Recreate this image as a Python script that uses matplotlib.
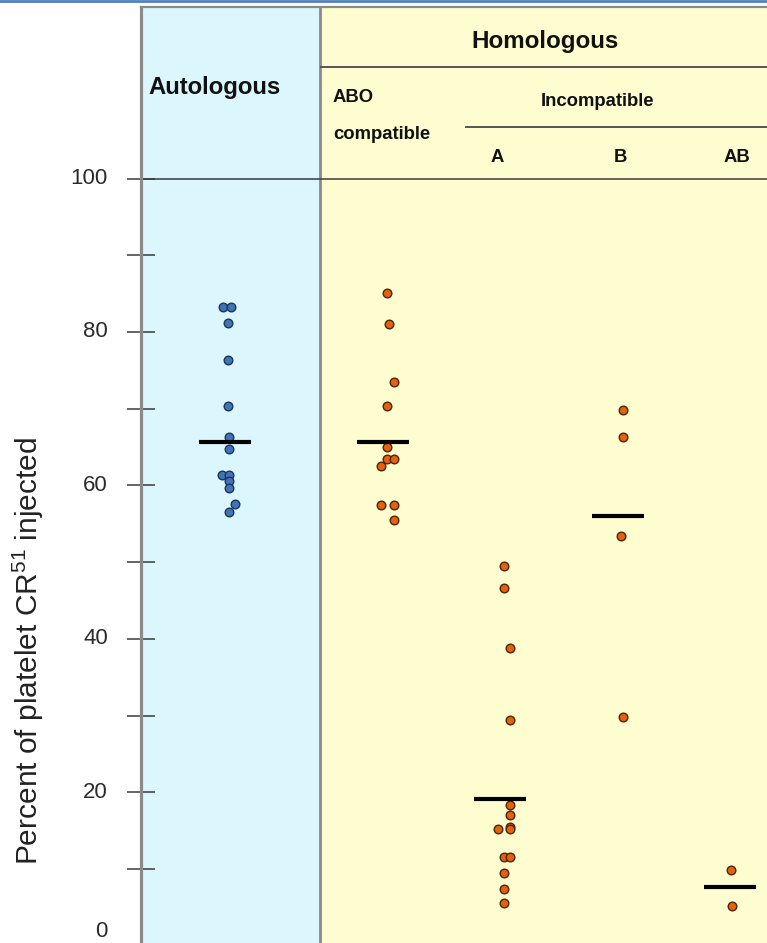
import matplotlib
matplotlib.use('Agg')
import matplotlib.pyplot as plt
from matplotlib.transforms import blended_transform_factory, ScaledTranslation
from matplotlib.lines import Line2D

plt.rcParams['mathtext.fontset'] = 'custom'
plt.rcParams['mathtext.rm'] = 'Liberation Sans'

# ---------------- data ----------------
groups = ['Autologous', 'ABO compatible', 'A', 'B', 'AB']
autologous = [83.2, 83.2, 81.2, 76.3, 70.4, 66.3, 64.7, 61.4, 61.4, 60.6, 59.7, 57.6, 56.5]
abo_compatible = [85.1, 81.1, 73.5, 70.4, 65.0, 63.5, 63.5, 62.5, 57.5, 57.5, 55.5]
incompat_A = [49.5, 46.6, 38.8, 29.4, 18.4, 17.0, 15.5, 15.2, 15.2, 11.5, 11.5, 9.5, 7.4, 5.6]
incompat_B = [69.8, 66.3, 53.4, 29.8]
incompat_AB = [9.9, 5.2]
group_means = [65.7, 65.7, 19.1, 56.0, 7.6]
yticks_major = [0, 20, 40, 60, 80, 100]
yticks_minor = [10, 30, 50, 70, 90]
ytick_labels = ['0', '20', '40', '60', '80', '100']
ylabel = r'Percent of platelet CR$^{51}$ injected'

# ---------------- layout ----------------
W, H = 767, 943
DPI = 100
Y0_PX = 945.7          # pixel row of value 0
PX_PER_UNIT = 7.672    # pixels per y unit
TOP_PX = 7.0
LEFT_PX = 141.0
PANEL_SPLIT = 320      # x (px-like units) of the blue/yellow split

def ypx(p):
    """convert a pixel row to a y data value"""
    return (Y0_PX - p) / PX_PER_UNIT

centers = [225, 383, 500, 618, 730]
jitter = [
    [-2, 6, 3, 3, 3, 4, 4, -3, 4, 4, 4, 10, 4],
    [4, 6, 11, 4, 4, 4, 11, -2, -2, 11, 11],
    [4, 4, 10, 10, 10, 10, 10, 10, -2, 4, 10, 4, 4, 4],
    [5, 5, 3, 5],
    [1, 2],
]
series = [autologous, abo_compatible, incompat_A, incompat_B, incompat_AB]
face = ['#3f74bd', '#e8600c', '#e8600c', '#e8600c', '#e8600c']
edge = ['#1d3552', '#4a260a', '#4a260a', '#4a260a', '#4a260a']

BLUE_BG = '#dcf6fd'
YELLOW_BG = '#fefdcf'
GRID_GRAY = '#8a8a8a'
DARK = '#3a3a3a'

fig = plt.figure(figsize=(W / DPI, H / DPI), dpi=DPI)
fig.patch.set_facecolor('white')
ax = fig.add_axes([LEFT_PX / W, (H - Y0_PX) / H, (W - LEFT_PX) / W, (Y0_PX - TOP_PX) / H])
ax.set_xlim(LEFT_PX, W)
ax.set_ylim(0, ypx(TOP_PX))

# backgrounds
ax.axvspan(LEFT_PX, PANEL_SPLIT, color=BLUE_BG, zorder=0, lw=0)
ax.axvspan(PANEL_SPLIT, W, color=YELLOW_BG, zorder=0, lw=0)
ax.axvline(PANEL_SPLIT, color=GRID_GRAY, lw=2.0, zorder=1)

# spines
for s in ['right', 'bottom']:
    ax.spines[s].set_visible(False)
ax.spines['left'].set_color(GRID_GRAY)
ax.spines['left'].set_linewidth(2.3)
ax.spines['top'].set_color(GRID_GRAY)
ax.spines['top'].set_linewidth(1.6)

# ticks
ax.set_xticks([])
ax.set_yticks(yticks_major)
ax.set_yticks(yticks_minor, minor=True)
ax.tick_params(axis='y', which='both', direction='inout', length=19.5, width=1.1,
               color=DARK, labelleft=False)

# tick labels drawn as text next to the axis
lab_font = ['Liberation Sans Narrow', 'Liberation Sans']
lab_tr = blended_transform_factory(ax.transAxes, ax.transData) + \
    ScaledTranslation(-33 / DPI, 0, fig.dpi_scale_trans)
for v, t in zip(yticks_major, ytick_labels):
    if v == yticks_major[0]:
        ax.text(0, v, t, transform=lab_tr + ScaledTranslation(0, 4 / DPI, fig.dpi_scale_trans),
                ha='right', va='bottom', fontsize=16, color='#2b2b2b',
                family=lab_font, clip_on=False)
    else:
        ax.text(0, v, t, transform=lab_tr, ha='right', va='center', fontsize=16,
                color='#2b2b2b', family=lab_font, clip_on=False)

# header separator at 100 (extends left like the tick)
ax.axhline(100, color=DARK, lw=1.1, zorder=2)
ax.hlines(ypx(67), PANEL_SPLIT, W, color='#555555', lw=1.4, zorder=2)
ax.hlines(ypx(127), 465, W, color='#555555', lw=1.4, zorder=2)

hdr_font = ['Liberation Sans', 'DejaVu Sans']
ax.text(545, ypx(41), 'Homologous', ha='center', va='center', fontsize=17.4,
        fontweight='bold', family=hdr_font, color='#111111')
ax.text(215, ypx(87), 'Autologous', ha='center', va='center', fontsize=17.2,
        fontweight='bold', family=hdr_font, color='#111111')
ax.text(333, ypx(98), 'ABO', ha='left', va='center', fontsize=13.3,
        fontweight='bold', family=hdr_font, color='#111111')
ax.text(333, ypx(134), 'compatible', ha='left', va='center', fontsize=13.3,
        fontweight='bold', family=hdr_font, color='#111111')
ax.text(598, ypx(102), 'Incompatible', ha='center', va='center', fontsize=13.3,
        fontweight='bold', family=hdr_font, color='#111111')
for c, t in zip(centers[2:], groups[2:]):
    ax.text(c + (-3 if t == 'A' else 2 if t == 'B' else 7), ypx(157), t, ha='center',
            va='center', fontsize=13.3, fontweight='bold', family=hdr_font, color='#111111')

# points
for i, vals in enumerate(series):
    xs = [centers[i] + d for d in jitter[i]]
    ax.plot(xs, vals, ls='none', marker='o', ms=6.2, mfc=face[i], mec=edge[i],
            mew=1.0, zorder=4, clip_on=False)

# group mean bars
for c, m in zip(centers, group_means):
    ax.hlines(m, c - 26, c + 26, color='black', lw=3.0, zorder=5)

# y label
fig.text(28 / W, 1 - 651 / H, ylabel, rotation=90, ha='center', va='center',
         fontsize=21.5, color='#222222', family=['Liberation Sans', 'DejaVu Sans'])

# thin blue frame line at the very top of the picture
fig.add_artist(Line2D([0, 1], [1 - 1.2 / H, 1 - 1.2 / H], transform=fig.transFigure,
                      color='#4f81bd', lw=2.0))

fig.savefig('out.png', dpi=DPI)
